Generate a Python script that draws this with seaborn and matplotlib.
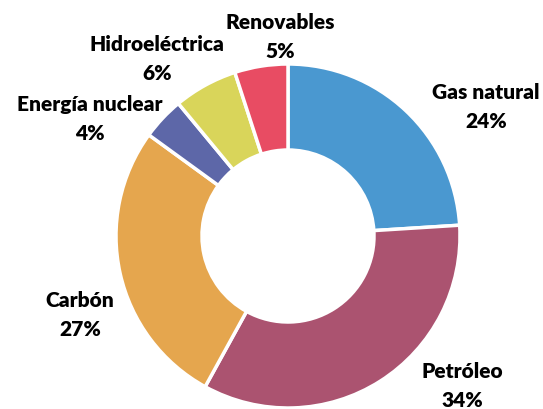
import matplotlib
matplotlib.use("Agg")
import matplotlib.pyplot as plt
import seaborn as sns

# datos
fuentes = ["Gas natural", "Petróleo", "Carbón", "Energía nuclear", "Hidroeléctrica", "Renovables"]
porcentajes = [24, 34, 27, 4, 6, 5]
colores = ["#4A98D0", "#AB5370", "#E5A64E", "#5D67A8", "#D9D55A", "#E84C63"]

# posición de cada etiqueta (pixeles de la imagen, centro del texto)
etiqueta_xy = {
    "Gas natural": (486, 107),
    "Petróleo": (462, 386),
    "Carbón": (80, 315),
    "Energía nuclear": (90, 119),
    "Hidroeléctrica": (157, 59),
    "Renovables": (280, 37),
}

sns.set_theme(style="white")
plt.rcParams["font.family"] = ["Lato", "DejaVu Sans"]

W, H = 543, 410
fig = plt.figure(figsize=(W / 100, H / 100), dpi=100)
cx, cy, r = 288, 237, 172
ax = fig.add_axes([(cx - r) / W, (H - cy - r) / H, 2 * r / W, 2 * r / H])

ax.pie(porcentajes, colors=colores, startangle=90, counterclock=False,
       wedgeprops=dict(width=0.5, edgecolor="white", linewidth=2.5))
ax.set_xlim(-1, 1)
ax.set_ylim(-1, 1)
ax.set_aspect("equal")
ax.axis("off")

for nombre, p in zip(fuentes, porcentajes):
    x, y = etiqueta_xy[nombre]
    fig.text(x / W, 1 - y / H, f"{nombre}\n{p}%", ha="center", va="center",
             fontsize=15, fontweight="heavy", color="black", linespacing=1.6)

fig.savefig("out.png", dpi=100, facecolor="white")
